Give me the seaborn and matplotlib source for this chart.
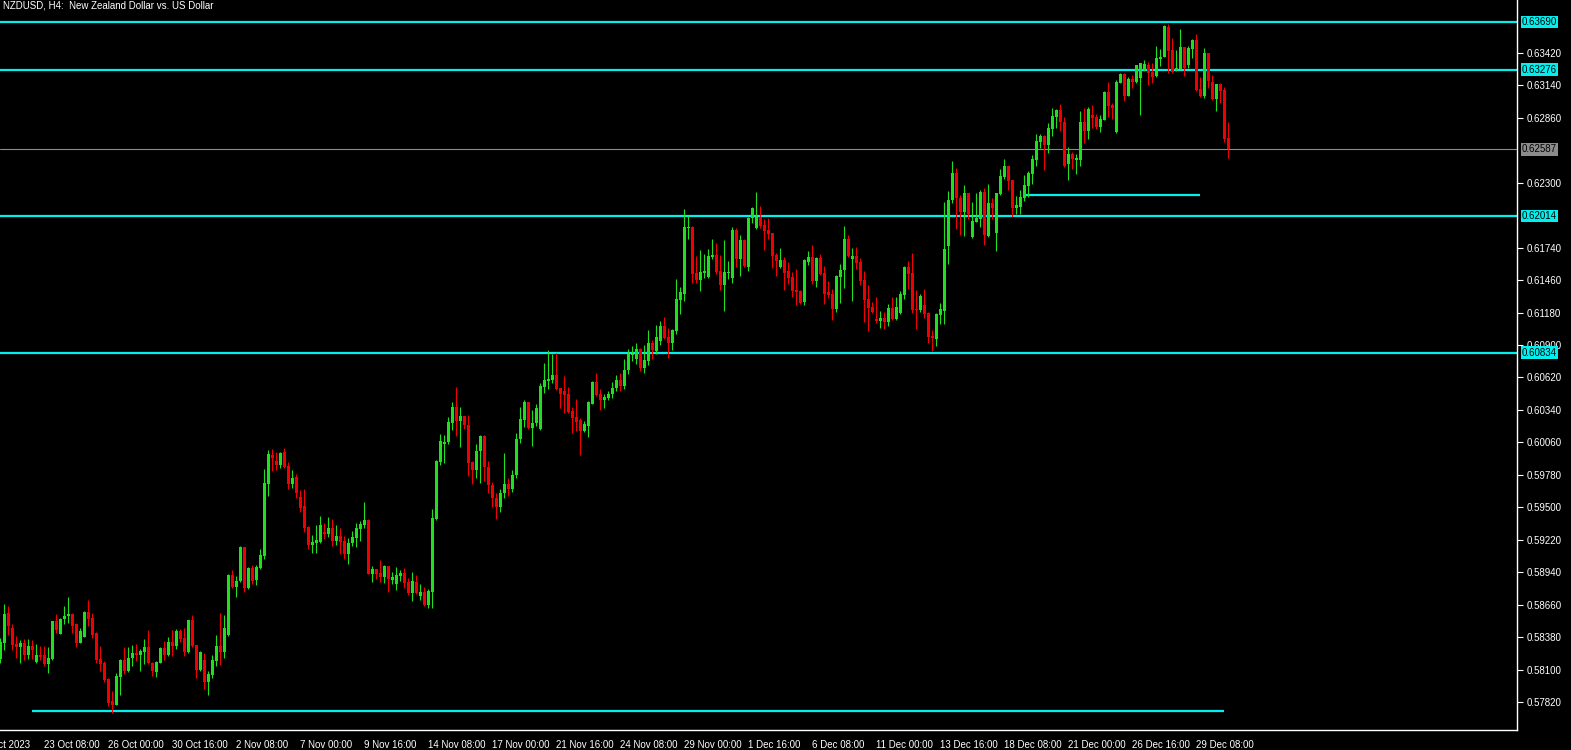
import numpy as np
import pandas as pd
import seaborn as sns
import matplotlib.pyplot as plt
from matplotlib.transforms import blended_transform_factory

# NZDUSD H4 candles, one entry per bar
opens = [
    0.58190, 0.58331, 0.58590, 0.58461, 0.58320, 0.58294, 0.58331, 0.58225, 0.58303, 0.58165,
    0.58225, 0.58225, 0.58147, 0.58190, 0.58518, 0.58406, 0.58533, 0.58562, 0.58579, 0.58493,
    0.58331, 0.58380, 0.58596, 0.58544, 0.58412, 0.58190, 0.58159, 0.58018, 0.57828, 0.57793,
    0.58035, 0.58182, 0.58087, 0.58201, 0.58239, 0.58224, 0.58253, 0.58293, 0.58158, 0.58080,
    0.58158, 0.58285, 0.58224, 0.58337, 0.58302, 0.58431, 0.58371, 0.58250, 0.58526, 0.58311,
    0.58095, 0.58181, 0.57991, 0.58052, 0.58175, 0.58302, 0.58250, 0.58397, 0.58915, 0.58811,
    0.58863, 0.59156, 0.58803, 0.58975, 0.58872, 0.58975, 0.59079, 0.59700, 0.59951, 0.59899,
    0.59864, 0.59976, 0.59856, 0.59700, 0.59761, 0.59588, 0.59510, 0.59329, 0.59174, 0.59191,
    0.59200, 0.59286, 0.59269, 0.59320, 0.59208, 0.59251, 0.59208, 0.59096, 0.59191, 0.59234,
    0.59312, 0.59346, 0.59390, 0.58924, 0.58967, 0.58933, 0.58898, 0.58993, 0.58872, 0.58837,
    0.58906, 0.58932, 0.58855, 0.58760, 0.58855, 0.58734, 0.58768, 0.58656, 0.58768, 0.59398,
    0.59890, 0.60046, 0.60063, 0.60227, 0.60365, 0.60244, 0.60287, 0.60210, 0.59890, 0.59821,
    0.59985, 0.60115, 0.59847, 0.59692, 0.59580, 0.59500, 0.59620, 0.59700, 0.59660, 0.59780,
    0.60089, 0.60253, 0.60408, 0.60184, 0.60227, 0.60175, 0.60537, 0.60589, 0.60598, 0.60641,
    0.60529, 0.60503, 0.60477, 0.60330, 0.60278, 0.60253, 0.60158, 0.60201, 0.60391, 0.60580,
    0.60477, 0.60425, 0.60442, 0.60477, 0.60530, 0.60600, 0.60550, 0.60684, 0.60814, 0.60780,
    0.60866, 0.60702, 0.60762, 0.60918, 0.60849, 0.60935, 0.61064, 0.60970, 0.60918, 0.61021,
    0.61289, 0.61341, 0.61910, 0.61919, 0.61522, 0.61461, 0.61522, 0.61487, 0.61660, 0.61677,
    0.61539, 0.61418, 0.61522, 0.61478, 0.61893, 0.61642, 0.61806, 0.61573, 0.61996, 0.61910,
    0.62005, 0.61936, 0.61893, 0.61867, 0.61677, 0.61573, 0.61634, 0.61539, 0.61487, 0.61375,
    0.61366, 0.61271, 0.61616, 0.61659, 0.61452, 0.61651, 0.61522, 0.61358, 0.61340, 0.61211,
    0.61487, 0.61547, 0.61815, 0.61642, 0.61668, 0.61616, 0.61461, 0.61297, 0.61228, 0.61124,
    0.61107, 0.61133, 0.61098, 0.61219, 0.61124, 0.61176, 0.61332, 0.61573, 0.61522, 0.61211,
    0.61202, 0.61245, 0.61176, 0.60978, 0.60952, 0.61159, 0.61193, 0.61755, 0.62151, 0.62384,
    0.62169, 0.62048, 0.62212, 0.61832, 0.61962, 0.61988, 0.62221, 0.61841, 0.62126, 0.61867,
    0.62204, 0.62350, 0.62445, 0.62324, 0.62083, 0.62091, 0.62169, 0.62273, 0.62376, 0.62497,
    0.62652, 0.62704, 0.62626, 0.62765, 0.62868, 0.62929, 0.62825, 0.62462, 0.62549, 0.62497,
    0.62497, 0.62825, 0.62747, 0.62885, 0.62868, 0.62781, 0.62842, 0.63083, 0.62971, 0.62738,
    0.63161, 0.63239, 0.63049, 0.63196, 0.63170, 0.63204, 0.63273, 0.63316, 0.63256, 0.63221,
    0.63368, 0.63385, 0.63645, 0.63446, 0.63273, 0.63282, 0.63472, 0.63316, 0.63455, 0.63532,
    0.63110, 0.63049, 0.63420, 0.63170, 0.63023, 0.63152, 0.63101, 0.62686,
]
highs = [
    0.58369, 0.58665, 0.58648, 0.58493, 0.58389, 0.58354, 0.58363, 0.58363, 0.58354, 0.58317,
    0.58303, 0.58303, 0.58294, 0.58518, 0.58579, 0.58547, 0.58648, 0.58726, 0.58590, 0.58500,
    0.58458, 0.58605, 0.58700, 0.58590, 0.58424, 0.58303, 0.58170, 0.58024, 0.57914, 0.58067,
    0.58190, 0.58297, 0.58297, 0.58311, 0.58319, 0.58273, 0.58362, 0.58440, 0.58167, 0.58175,
    0.58290, 0.58345, 0.58379, 0.58440, 0.58449, 0.58449, 0.58457, 0.58530, 0.58570, 0.58315,
    0.58259, 0.58239, 0.58086, 0.58224, 0.58397, 0.58587, 0.58570, 0.58920, 0.58958, 0.58906,
    0.59165, 0.59160, 0.58984, 0.59001, 0.59001, 0.59139, 0.59830, 0.59994, 0.60002, 0.59976,
    0.59976, 0.60011, 0.59890, 0.59821, 0.59787, 0.59648, 0.59657, 0.59338, 0.59260, 0.59346,
    0.59424, 0.59364, 0.59415, 0.59398, 0.59346, 0.59320, 0.59251, 0.59234, 0.59295, 0.59364,
    0.59381, 0.59545, 0.59395, 0.58993, 0.58970, 0.59044, 0.59001, 0.58995, 0.58941, 0.58984,
    0.58958, 0.58975, 0.58889, 0.58941, 0.58915, 0.58837, 0.58811, 0.58794, 0.59485, 0.59908,
    0.60132, 0.60123, 0.60279, 0.60408, 0.60538, 0.60365, 0.60290, 0.60296, 0.59899, 0.60046,
    0.60123, 0.60120, 0.59899, 0.59720, 0.59620, 0.59660, 0.59965, 0.59750, 0.59820, 0.60140,
    0.60365, 0.60425, 0.60410, 0.60339, 0.60391, 0.60572, 0.60744, 0.60857, 0.60822, 0.60831,
    0.60532, 0.60632, 0.60537, 0.60365, 0.60434, 0.60270, 0.60244, 0.60417, 0.60589, 0.60658,
    0.60520, 0.60477, 0.60503, 0.60580, 0.60640, 0.60660, 0.60780, 0.60866, 0.60892, 0.60918,
    0.60875, 0.60900, 0.61030, 0.60944, 0.61073, 0.61108, 0.61142, 0.61047, 0.61038, 0.61470,
    0.61401, 0.62074, 0.62014, 0.61927, 0.61669, 0.61720, 0.61686, 0.61729, 0.61815, 0.61781,
    0.61677, 0.61807, 0.61625, 0.61919, 0.61910, 0.61849, 0.61815, 0.62005, 0.62091, 0.62221,
    0.62100, 0.61988, 0.61996, 0.61870, 0.61694, 0.61737, 0.61659, 0.61616, 0.61530, 0.61556,
    0.61375, 0.61642, 0.61711, 0.61763, 0.61659, 0.61685, 0.61582, 0.61452, 0.61383, 0.61504,
    0.61599, 0.61927, 0.61849, 0.61737, 0.61746, 0.61651, 0.61539, 0.61418, 0.61271, 0.61314,
    0.61193, 0.61185, 0.61254, 0.61314, 0.61314, 0.61366, 0.61582, 0.61625, 0.61694, 0.61375,
    0.61340, 0.61383, 0.61185, 0.61029, 0.61176, 0.61263, 0.62134, 0.62229, 0.62488, 0.62428,
    0.62195, 0.62281, 0.62215, 0.62134, 0.62212, 0.62238, 0.62255, 0.62290, 0.62169, 0.62215,
    0.62420, 0.62506, 0.62448, 0.62327, 0.62186, 0.62238, 0.62367, 0.62402, 0.62540, 0.62721,
    0.62721, 0.62713, 0.62816, 0.62946, 0.62937, 0.62980, 0.62868, 0.62609, 0.62566, 0.62549,
    0.62920, 0.62946, 0.62954, 0.62971, 0.62894, 0.62885, 0.63092, 0.63170, 0.62988, 0.63187,
    0.63247, 0.63247, 0.63213, 0.63230, 0.63318, 0.63336, 0.63360, 0.63342, 0.63334, 0.63480,
    0.63455, 0.63662, 0.63670, 0.63549, 0.63446, 0.63627, 0.63475, 0.63480, 0.63541, 0.63584,
    0.63213, 0.63463, 0.63423, 0.63230, 0.63155, 0.63161, 0.63127, 0.62824,
]
lows = [
    0.58153, 0.58268, 0.58398, 0.58268, 0.58199, 0.58159, 0.58182, 0.58190, 0.58190, 0.58153,
    0.58182, 0.58133, 0.58067, 0.58182, 0.58412, 0.58406, 0.58493, 0.58498, 0.58418, 0.58291,
    0.58326, 0.58380, 0.58478, 0.58369, 0.58159, 0.58090, 0.57995, 0.57785, 0.57722, 0.57790,
    0.57880, 0.58060, 0.58075, 0.58129, 0.58173, 0.58086, 0.58144, 0.58147, 0.58046, 0.58034,
    0.58152, 0.58181, 0.58220, 0.58216, 0.58276, 0.58337, 0.58216, 0.58239, 0.58293, 0.58029,
    0.58089, 0.57931, 0.57879, 0.58029, 0.58129, 0.58141, 0.58198, 0.58388, 0.58803, 0.58725,
    0.58854, 0.58768, 0.58794, 0.58837, 0.58829, 0.58970, 0.59053, 0.59597, 0.59812, 0.59821,
    0.59838, 0.59838, 0.59657, 0.59666, 0.59579, 0.59459, 0.59286, 0.59139, 0.59105, 0.59105,
    0.59191, 0.59226, 0.59243, 0.59165, 0.59174, 0.59096, 0.59053, 0.59010, 0.59165, 0.59156,
    0.59208, 0.59320, 0.58920, 0.58857, 0.58880, 0.58855, 0.58846, 0.58768, 0.58837, 0.58785,
    0.58863, 0.58803, 0.58742, 0.58691, 0.58751, 0.58699, 0.58647, 0.58630, 0.58630, 0.59390,
    0.59864, 0.59882, 0.60046, 0.60166, 0.60115, 0.60020, 0.60175, 0.59770, 0.59700, 0.59752,
    0.59709, 0.59726, 0.59623, 0.59500, 0.59400, 0.59460, 0.59580, 0.59600, 0.59630, 0.59750,
    0.60054, 0.60192, 0.60175, 0.60028, 0.60201, 0.60170, 0.60486, 0.60520, 0.60572, 0.60511,
    0.60356, 0.60313, 0.60313, 0.60140, 0.60158, 0.59951, 0.60149, 0.60106, 0.60390, 0.60460,
    0.60339, 0.60356, 0.60425, 0.60440, 0.60500, 0.60500, 0.60520, 0.60650, 0.60762, 0.60736,
    0.60680, 0.60660, 0.60728, 0.60780, 0.60823, 0.60900, 0.60952, 0.60788, 0.60857, 0.60995,
    0.61168, 0.61280, 0.61815, 0.61435, 0.61435, 0.61366, 0.61479, 0.61479, 0.61643, 0.61513,
    0.61375, 0.61194, 0.61470, 0.61435, 0.61573, 0.61496, 0.61573, 0.61539, 0.61953, 0.61905,
    0.61910, 0.61720, 0.61815, 0.61565, 0.61496, 0.61565, 0.61375, 0.61427, 0.61314, 0.61245,
    0.61254, 0.61245, 0.61591, 0.61427, 0.61401, 0.61504, 0.61254, 0.61306, 0.61116, 0.61185,
    0.61263, 0.61392, 0.61659, 0.61280, 0.61556, 0.61418, 0.61099, 0.61021, 0.61180, 0.61090,
    0.61047, 0.61038, 0.61064, 0.61116, 0.61116, 0.61168, 0.61297, 0.61383, 0.61176, 0.61038,
    0.61185, 0.61133, 0.60917, 0.60848, 0.60891, 0.61081, 0.61081, 0.61599, 0.62125, 0.61901,
    0.61849, 0.61841, 0.61988, 0.61824, 0.61960, 0.61919, 0.61763, 0.61832, 0.61988, 0.61712,
    0.62195, 0.62333, 0.62238, 0.62005, 0.62031, 0.62031, 0.62143, 0.62178, 0.62290, 0.62445,
    0.62600, 0.62411, 0.62557, 0.62704, 0.62773, 0.62747, 0.62437, 0.62324, 0.62419, 0.62376,
    0.62445, 0.62644, 0.62678, 0.62773, 0.62764, 0.62738, 0.62840, 0.62868, 0.62850, 0.62730,
    0.63160, 0.63006, 0.63045, 0.63118, 0.63161, 0.62885, 0.63265, 0.63144, 0.63161, 0.63213,
    0.63308, 0.63383, 0.63247, 0.63247, 0.63265, 0.63280, 0.63221, 0.63290, 0.63377, 0.63092,
    0.63040, 0.63032, 0.63118, 0.63014, 0.62920, 0.62988, 0.62652, 0.62514,
]
closes = [
    0.58340, 0.58579, 0.58478, 0.58311, 0.58294, 0.58331, 0.58225, 0.58303, 0.58265, 0.58225,
    0.58205, 0.58147, 0.58199, 0.58518, 0.58441, 0.58539, 0.58562, 0.58579, 0.58478, 0.58331,
    0.58432, 0.58596, 0.58539, 0.58398, 0.58182, 0.58147, 0.58009, 0.57814, 0.57793, 0.58047,
    0.58182, 0.58088, 0.58196, 0.58239, 0.58224, 0.58262, 0.58293, 0.58158, 0.58086, 0.58167,
    0.58285, 0.58224, 0.58337, 0.58302, 0.58431, 0.58359, 0.58250, 0.58526, 0.58302, 0.58095,
    0.58250, 0.57991, 0.58060, 0.58181, 0.58302, 0.58250, 0.58457, 0.58915, 0.58811, 0.58863,
    0.59156, 0.58803, 0.58975, 0.58863, 0.58984, 0.59087, 0.59709, 0.59959, 0.59925, 0.59864,
    0.59968, 0.59847, 0.59700, 0.59752, 0.59623, 0.59493, 0.59320, 0.59174, 0.59200, 0.59217,
    0.59346, 0.59269, 0.59320, 0.59208, 0.59251, 0.59200, 0.59096, 0.59191, 0.59243, 0.59320,
    0.59355, 0.59390, 0.58924, 0.58967, 0.58924, 0.58898, 0.58993, 0.58880, 0.58898, 0.58915,
    0.58932, 0.58846, 0.58760, 0.58863, 0.58760, 0.58768, 0.58656, 0.58777, 0.59407, 0.59899,
    0.60072, 0.60063, 0.60235, 0.60365, 0.60244, 0.60287, 0.60210, 0.59882, 0.59821, 0.59985,
    0.60115, 0.59847, 0.59692, 0.59580, 0.59500, 0.59620, 0.59700, 0.59660, 0.59780, 0.60089,
    0.60261, 0.60408, 0.60184, 0.60227, 0.60356, 0.60546, 0.60598, 0.60606, 0.60641, 0.60520,
    0.60477, 0.60468, 0.60322, 0.60270, 0.60235, 0.60158, 0.60218, 0.60408, 0.60580, 0.60468,
    0.60425, 0.60451, 0.60477, 0.60530, 0.60600, 0.60550, 0.60684, 0.60823, 0.60823, 0.60866,
    0.60702, 0.60771, 0.60918, 0.60857, 0.60970, 0.61064, 0.60961, 0.60918, 0.61030, 0.61297,
    0.61358, 0.61919, 0.61919, 0.61513, 0.61461, 0.61530, 0.61539, 0.61669, 0.61677, 0.61530,
    0.61418, 0.61530, 0.61530, 0.61893, 0.61642, 0.61806, 0.61582, 0.61996, 0.62082, 0.62005,
    0.61927, 0.61884, 0.61858, 0.61668, 0.61625, 0.61634, 0.61521, 0.61478, 0.61366, 0.61358,
    0.61263, 0.61634, 0.61659, 0.61452, 0.61651, 0.61513, 0.61340, 0.61332, 0.61211, 0.61496,
    0.61547, 0.61815, 0.61668, 0.61668, 0.61608, 0.61452, 0.61289, 0.61219, 0.61185, 0.61107,
    0.61133, 0.61098, 0.61219, 0.61124, 0.61228, 0.61340, 0.61573, 0.61513, 0.61202, 0.61202,
    0.61323, 0.61167, 0.60969, 0.60961, 0.61167, 0.61211, 0.61729, 0.62151, 0.62384, 0.62169,
    0.62048, 0.62212, 0.62031, 0.61970, 0.61996, 0.62221, 0.61850, 0.62126, 0.62083, 0.62212,
    0.62359, 0.62445, 0.62316, 0.62083, 0.62109, 0.62178, 0.62281, 0.62385, 0.62506, 0.62661,
    0.62704, 0.62626, 0.62773, 0.62877, 0.62929, 0.62825, 0.62445, 0.62549, 0.62506, 0.62514,
    0.62825, 0.62747, 0.62937, 0.62859, 0.62781, 0.62850, 0.63083, 0.62963, 0.62945, 0.63170,
    0.63239, 0.63049, 0.63196, 0.63170, 0.63316, 0.63334, 0.63325, 0.63247, 0.63213, 0.63377,
    0.63385, 0.63653, 0.63437, 0.63256, 0.63290, 0.63472, 0.63290, 0.63463, 0.63532, 0.63101,
    0.63049, 0.63420, 0.63178, 0.63023, 0.63152, 0.63092, 0.62678, 0.62587,
]

chart_title = 'NZDUSD, H4:  New Zealand Dollar vs. US Dollar'
first_label = '19 Oct 2023'
date_labels = ['23 Oct 08:00', '26 Oct 00:00', '30 Oct 16:00', '2 Nov 08:00', '7 Nov 00:00',
               '9 Nov 16:00', '14 Nov 08:00', '17 Nov 00:00', '21 Nov 16:00', '24 Nov 08:00',
               '29 Nov 00:00', '1 Dec 16:00', '6 Dec 08:00', '11 Dec 00:00', '13 Dec 16:00',
               '18 Dec 08:00', '21 Dec 00:00', '26 Dec 16:00', '29 Dec 08:00']
date_bars = [11 + 16 * k for k in range(len(date_labels))]

price_ticks = [0.57820, 0.58100, 0.58380, 0.58660, 0.58940, 0.59220, 0.59500, 0.59780,
               0.60060, 0.60340, 0.60620, 0.60900, 0.61180, 0.61460, 0.61740, 0.62300,
               0.62860, 0.63140, 0.63420]

# horizontal levels drawn across the whole chart
levels = [0.63690, 0.63276, 0.62014, 0.60834]
last_price = 0.62587
# shorter levels: price, first bar, last bar
seg_prices = [0.62195, 0.57742]
seg_first = [256, 8]
seg_last = [300, 306]

df = pd.DataFrame({'open': opens, 'high': highs, 'low': lows, 'close': closes})
df['bar'] = np.arange(len(df))
df['up'] = df['close'] >= df['open']
df['body_low'] = df[['open', 'close']].min(axis=1)
df['body_h'] = (df['close'] - df['open']).abs().clip(lower=0.00009)

UP, DOWN = '#1ee01e', '#f00000'
CYAN = '#00f0f0'

sns.set_theme(style='dark', rc={'axes.facecolor': 'black', 'figure.facecolor': 'black',
                                'axes.grid': False})
plt.rcParams['font.family'] = ['Liberation Sans', 'DejaVu Sans']

fig = plt.figure(figsize=(15.71, 7.5), dpi=100)
ax = fig.add_axes([0, 20 / 750, 1517 / 1571, 730 / 750])
ax.set_facecolor('black')

colors = np.where(df['up'], UP, DOWN)
ax.vlines(df['bar'], df['low'], df['high'], colors=colors, linewidth=0.8, zorder=3)
ax.bar(df['bar'], df['body_h'], bottom=df['body_low'], width=0.72, color=colors,
       linewidth=0, zorder=4)

for lv in levels:
    ax.axhline(lv, color=CYAN, linewidth=1.6, zorder=2)
ax.axhline(last_price, color='#8c8c8c', linewidth=0.8, zorder=2)
ax.hlines(seg_prices, seg_first, seg_last, color=CYAN, linewidth=1.6, zorder=2)

ax.set_xlim(-0.08, 379.2)
ax.set_ylim(0.57578, 0.63877)

ax.yaxis.tick_right()
ax.set_yticks(price_ticks)
ax.set_yticklabels([f'{p:.5f}' for p in price_ticks])
ax.set_xticks(date_bars)
ax.set_xticklabels(date_labels, ha='left')
ax.tick_params(axis='both', colors='white', labelcolor='white', labelsize=7,
               length=4, width=0.8, direction='out', pad=3)
ax.tick_params(axis='x', pad=3)

for s in ['top', 'left']:
    ax.spines[s].set_visible(False)
for s in ['right', 'bottom']:
    ax.spines[s].set_color('white')
    ax.spines[s].set_linewidth(1)

trans = blended_transform_factory(ax.transAxes, ax.transData)
for lv in levels:
    ax.annotate(f'{lv:.5f}', xy=(1, lv), xycoords=trans, xytext=(3.5, 0),
                textcoords='offset points', ha='left', va='center', fontsize=7,
                color='black', annotation_clip=False, zorder=10,
                bbox=dict(boxstyle='square,pad=0.12', fc=CYAN, ec='none'))
ax.annotate(f'{last_price:.5f}', xy=(1, last_price), xycoords=trans, xytext=(3.5, 0),
            textcoords='offset points', ha='left', va='center', fontsize=7,
            color='black', annotation_clip=False, zorder=10,
            bbox=dict(boxstyle='square,pad=0.12', fc='#8c8c8c', ec='none'))

ax.text(0.002, 0.992, chart_title, transform=ax.transAxes, ha='left', va='center',
        fontsize=7, color='white')
fig.text(30 / 1571, 5.5 / 750, first_label, ha='right', va='center', fontsize=7,
         color='white')

fig.savefig('out.png', dpi=100, facecolor='black')
